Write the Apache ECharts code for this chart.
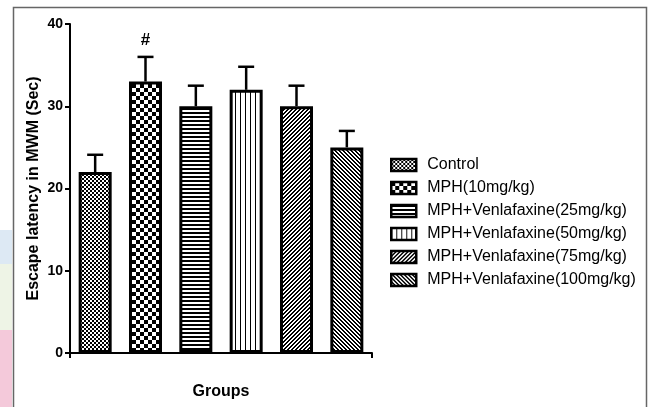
<!DOCTYPE html>
<html>
<head>
<meta charset="utf-8">
<script src="https://cdn.jsdelivr.net/npm/echarts@6/dist/echarts.min.js"></script>
<style>
html,body{margin:0;padding:0;background:#fff;}
#chart{width:649px;height:407px;}
</style>
</head>
<body>
<div id="chart"></div>
<script>
// ---- data ----
const categories = ['Control','MPH(10mg/kg)','MPH+Venlafaxine(25mg/kg)','MPH+Venlafaxine(50mg/kg)','MPH+Venlafaxine(75mg/kg)','MPH+Venlafaxine(100mg/kg)'];
const means = [22, 33, 30, 32, 30, 25];
const errors = [2.1, 3.0, 2.5, 2.8, 2.5, 2.0];
const significance = ['', '#', '', '', '', ''];
const yTicks = [0, 10, 20, 30, 40];
const patternKinds = ['fineChecker','coarseChecker','hLines','vLines','diagUp','diagDown'];

// ---- patterns ----
function makePattern(kind){
  const c = document.createElement('canvas');
  let w=4,h=4;
  if(kind==='coarseChecker'){w=8;h=8;}
  if(kind==='hLines'){w=4;h=4;}
  if(kind==='vLines'){w=5;h=5;}
  c.width=w;c.height=h;
  const ctx=c.getContext('2d');
  const img=ctx.createImageData(w,h);
  for(let y=0;y<h;y++){for(let x=0;x<w;x++){
    let black=false;
    if(kind==='fineChecker'){black=((Math.floor(x/2)+Math.floor(y/2))%2===0);}
    else if(kind==='coarseChecker'){black=((Math.floor(x/4)+Math.floor(y/4))%2===0);}
    else if(kind==='hLines'){black=(y<2);}
    else if(kind==='vLines'){black=(x===0);}
    else if(kind==='diagUp'){black=((x+y)%4<2);}
    else if(kind==='diagDown'){black=(((x-y)%4+4)%4<2);}
    const v=black?0:255;
    const i=(y*w+x)*4;
    img.data[i]=v;img.data[i+1]=v;img.data[i+2]=v;img.data[i+3]=255;
  }}
  ctx.putImageData(img,0,0);
  return {image:c, repeat:'repeat'};
}

const barSeries = categories.map((name,i)=>({
  name: name,
  type: 'bar',
  barWidth: 33,
  barGap: '-100%',
  data: categories.map((_,j)=> j===i ? means[i] : null),
  itemStyle: {color: makePattern(patternKinds[i]), borderColor:'#000', borderWidth:3},
  emphasis:{disabled:true},
  z: 2
}));

const errSeries = {
  type:'custom',
  name:'err',
  z: 3,
  data: means.map((m,i)=>[i, m, m+errors[i]]),
  renderItem: function(params, api){
    const base = api.coord([api.value(0), api.value(1)]);
    const top = api.coord([api.value(0), api.value(2)]);
    const children = [
      {type:'line', shape:{x1:base[0],y1:base[1],x2:top[0],y2:top[1]}, style:{stroke:'#000',lineWidth:2.5}},
      {type:'line', shape:{x1:top[0]-8,y1:top[1],x2:top[0]+8,y2:top[1]}, style:{stroke:'#000',lineWidth:2.5}}
    ];
    const s = significance[params.dataIndex];
    if(s){
      children.push({type:'text', style:{text:s, x:top[0], y:top[1]-8, align:'center', verticalAlign:'bottom', fill:'#000', font:'bold 17px "Liberation Sans", Arial, sans-serif'}});
    }
    return {type:'group', children:children};
  }
};

const chart = echarts.init(document.getElementById('chart'));
chart.setOption({
  animation:false,
  backgroundColor:'#fff',
  textStyle:{fontFamily:'"Liberation Sans", Arial, sans-serif'},
  grid:{left:70, right:277, top:24, bottom:54, containLabel:false},
  xAxis:{
    type:'category',
    data: categories,
    name:'Groups',
    nameLocation:'middle',
    nameGap:31,
    nameTextStyle:{fontSize:16, fontWeight:'bold', color:'#000'},
    axisLine:{lineStyle:{color:'#000', width:2}},
    axisTick:{show:true, length:5, lineStyle:{color:'#000', width:2}, interval:function(index){return index===3;}},
    axisLabel:{show:false},
    splitLine:{show:false}
  },
  yAxis:{
    type:'value',
    min:yTicks[0], max:yTicks[yTicks.length-1], interval:10,
    name:'Escape latency in MWM (Sec)',
    nameLocation:'middle',
    nameGap:28,
    nameTextStyle:{fontSize:16, fontWeight:'bold', color:'#000'},
    axisLine:{show:true, lineStyle:{color:'#000', width:2}},
    axisTick:{show:true, length:5, lineStyle:{color:'#000', width:2}},
    axisLabel:{fontSize:14, fontWeight:'bold', color:'#000', margin:7},
    splitLine:{show:false}
  },
  legend:{
    data: categories,
    orient:'vertical',
    left:385, top:152,
    itemWidth:25, itemHeight:12,
    itemGap:7,
    icon:'rect',
    itemStyle:{borderColor:'#000', borderWidth:2.5},
    textStyle:{fontSize:16, color:'#000', lineHeight:16, padding:[0,0,0,6]},
    selectedMode:false
  },
  graphic:[
    {type:'rect', shape:{x:13.5,y:7.5,width:633,height:410}, style:{fill:null, stroke:'#666', lineWidth:1.5}, silent:true},
    {type:'rect', shape:{x:0,y:230,width:12,height:34}, style:{fill:'#dde9f4'}, silent:true},
    {type:'rect', shape:{x:0,y:264,width:12,height:66}, style:{fill:'#eef4e6'}, silent:true},
    {type:'rect', shape:{x:0,y:330,width:12,height:77}, style:{fill:'#f4c9da'}, silent:true}
  ],
  series: barSeries.concat([errSeries])
});
</script>
</body>
</html>
